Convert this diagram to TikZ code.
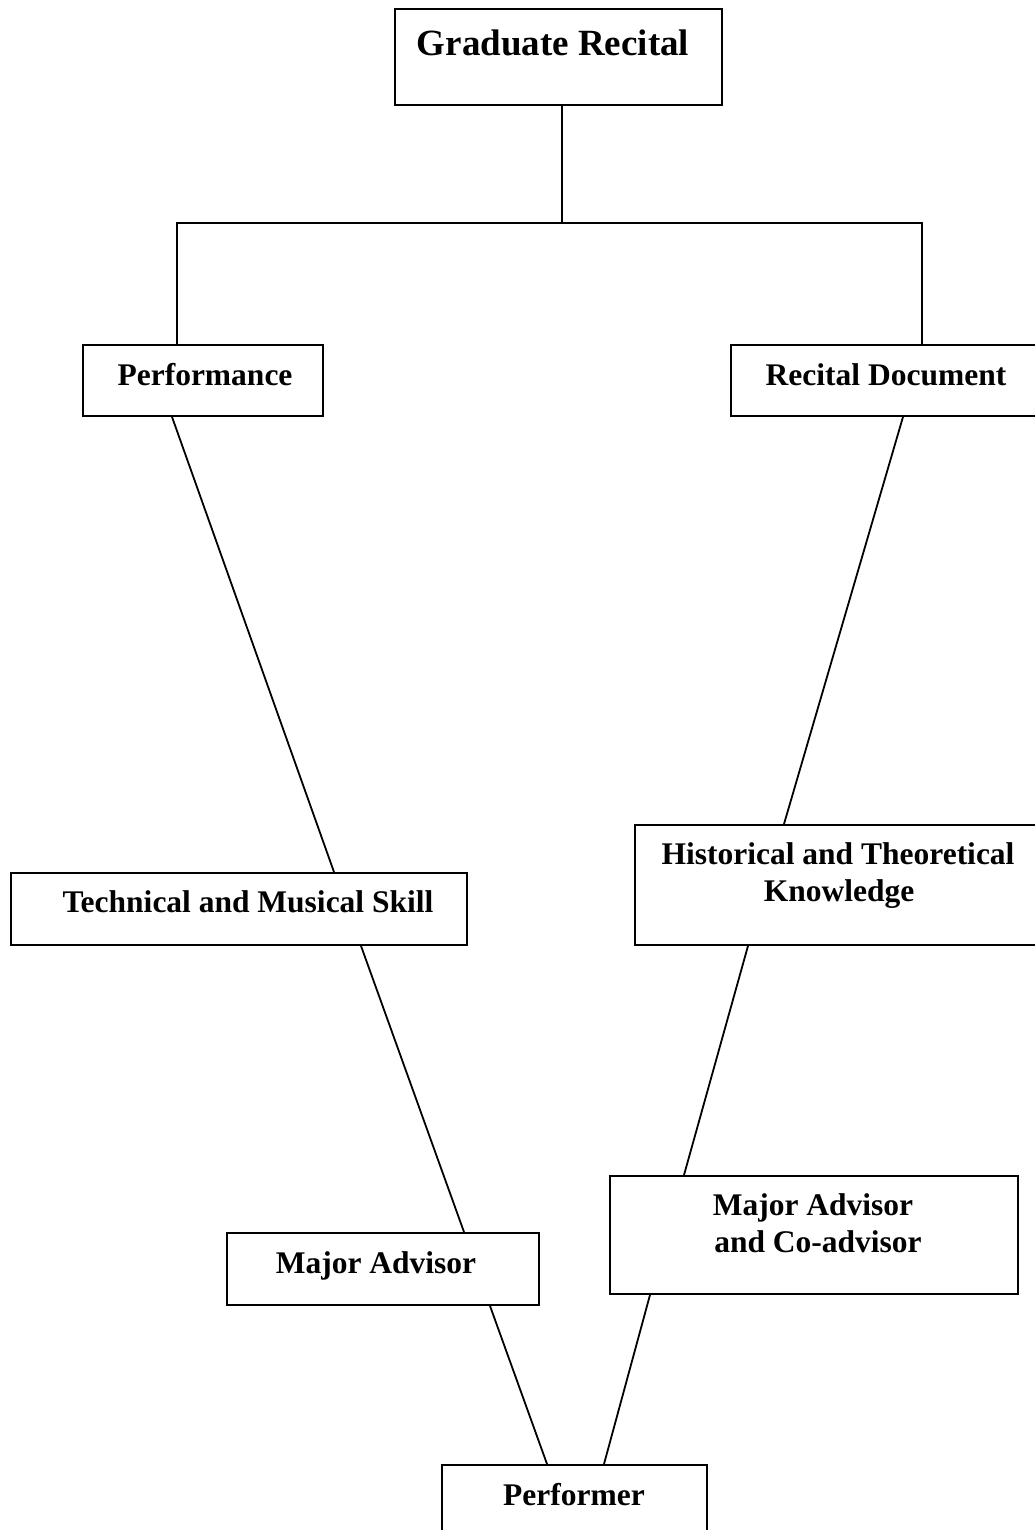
\documentclass[tikz,border=0pt]{standalone}
\usepackage{fontspec}
\setmainfont{Liberation Serif}
\begin{document}
\begin{tikzpicture}[x=1pt,y=-1pt,
  box/.style={draw, line width=1.9pt, rectangle, inner sep=0pt, anchor=north west},
  lbl/.style={font=\fontsize{31.5}{37}\selectfont\bfseries, anchor=base, inner sep=0pt},
  title/.style={font=\fontsize{37}{43}\selectfont\bfseries, anchor=base, inner sep=0pt},
  conn/.style={line width=1.8pt}]
\useasboundingbox (0,0) rectangle (1034,1530);
% boxes
\node[box, minimum width=327pt, minimum height=96pt] (gr) at (394,8) {};
\node[box, minimum width=240pt, minimum height=71pt] (perf) at (82,344) {};
\node[box, minimum width=330pt, minimum height=71pt] (rec) at (730,344) {};
\node[box, minimum width=456pt, minimum height=72pt] (tech) at (10,872) {};
\node[box, minimum width=430pt, minimum height=120pt] (hist) at (634,824) {};
\node[box, minimum width=312pt, minimum height=72pt] (ma) at (226,1232) {};
\node[box, minimum width=408pt, minimum height=118pt] (mac) at (609,1175) {};
\node[box, minimum width=265pt, minimum height=90pt] (pf) at (441,1464) {};
% texts
\node[title] (grt) at (553,56) {Graduate Recital};
\node[lbl] (perft) at (205,385) {Performance};
\node[lbl] (rect) at (886,385) {Recital Document};
\node[lbl] (techt) at (248,912) {Technical and Musical Skill};
\node[lbl] (histt1) at (838,864) {Historical and Theoretical};
\node[lbl] (histt2) at (839,901) {Knowledge};
\node[lbl] (mat) at (376,1273) {Major Advisor};
\node[lbl] (mact1) at (813,1215) {Major Advisor};
\node[lbl] (mact2) at (818,1252) {and Co-advisor};
\node[lbl] (pft) at (574,1505) {Performer};
% connectors
\coordinate (jn) at (562,223);
\draw[conn] ([xshift=168pt]gr.south west) -- (jn);
\draw[conn] ([xshift=95pt]perf.north west) |- (jn) -| ([xshift=192pt]rec.north west);
\draw[conn] ([xshift=90pt]perf.south west) -- ([xshift=324pt]tech.north west);
\draw[conn] ([xshift=173pt]rec.south west) -- ([xshift=150pt]hist.north west);
\draw[conn] ([xshift=351pt]tech.south west) -- ([xshift=238pt]ma.north west);
\draw[conn] ([xshift=114pt]hist.south west) -- ([xshift=75pt]mac.north west);
\draw[conn] ([xshift=264pt]ma.south west) -- ([xshift=106pt]pf.north west);
\draw[conn] ([xshift=41pt]mac.south west) -- ([xshift=163pt]pf.north west);
\end{tikzpicture}
\end{document}
